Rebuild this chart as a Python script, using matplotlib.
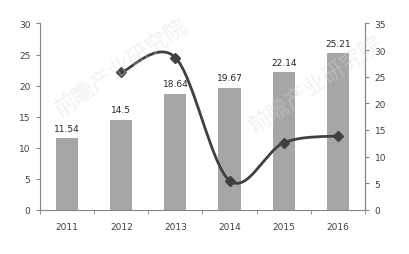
import numpy as np
import matplotlib.pyplot as plt
from matplotlib.path import Path
import matplotlib.patches as mpatches

plt.rcParams['font.family'] = ['DejaVu Sans', 'Noto Sans CJK SC']

years = ['2011', '2012', '2013', '2014', '2015', '2016']
bar_vals = [11.54, 14.5, 18.64, 19.67, 22.14, 25.21]
line_years = ['2012', '2013', '2014', '2015', '2016']
line_vals = [25.8, 28.6, 5.5, 12.6, 13.9]

fig = plt.figure(figsize=(4.09, 2.55), dpi=100)
ax = fig.add_axes([0.098, 0.173, 0.794, 0.731])
ax2 = ax.twinx()

x = np.arange(len(years))
ax.bar(x, bar_vals, width=0.41, color='#a6a6a6', zorder=2)
for xi, v in zip(x, bar_vals):
    ax.text(xi, v + 0.9, f'{v:g}', ha='center', va='bottom', fontsize=6.5, color='#262626')

ax.set_xlim(-0.5, 5.5)
ax.set_ylim(0, 30)
ax.set_yticks(range(0, 31, 5))
ax2.set_ylim(0, 35)
ax2.set_yticks(range(0, 36, 5))

ax.set_xticks(x)
ax.set_xticklabels(years)
ax.set_xticks(np.arange(-0.5, 6, 1), minor=True)
ax.tick_params(axis='x', which='major', length=0, pad=9, labelsize=6.5, labelcolor='#404040')
ax.tick_params(axis='x', which='minor', length=3, color='#868686', direction='out')
ax.tick_params(axis='y', length=3, color='#868686', labelsize=6.5, labelcolor='#404040', pad=4)
ax2.tick_params(axis='y', length=3, color='#868686', labelsize=6.5, labelcolor='#404040', pad=4)

for a in (ax, ax2):
    a.spines['top'].set_visible(False)
    for s in ('left', 'right', 'bottom'):
        a.spines[s].set_color('#868686')
        a.spines[s].set_linewidth(0.8)
ax2.spines['left'].set_visible(False)
ax2.spines['bottom'].set_visible(False)

# smoothed line (Excel style bezier through the points)
lx = np.array([years.index(y) for y in line_years], dtype=float)
ly = np.array(line_vals, dtype=float)
pts = np.column_stack([lx, ly])
verts = [pts[0]]
codes = [Path.MOVETO]
n = len(pts)
for i in range(n - 1):
    p0 = pts[i - 1] if i > 0 else pts[i]
    p1 = pts[i]
    p2 = pts[i + 1]
    p3 = pts[i + 2] if i + 2 < n else pts[i + 1]
    c1 = p1 + (p2 - p0) / 6.0
    c2 = p2 - (p3 - p1) / 6.0
    verts += [c1, c2, p2]
    codes += [Path.CURVE4] * 3
curve = mpatches.PathPatch(Path(verts, codes), facecolor='none', edgecolor='#404040',
                           lw=2.0, transform=ax2.transData, zorder=3, capstyle='round')
ax2.add_patch(curve)
ax2.plot(lx, ly, linestyle='none', marker='D', markersize=5, color='#404040', zorder=4)

# faint watermark
for (wx, wy) in [(0.296, 0.733), (0.773, 0.667)]:
    fig.text(wx, wy, '前瞻产业研究院', fontsize=16, color='#d8d8d8', alpha=0.35,
             rotation=34, ha='center', va='center', family=['Noto Sans CJK SC'], zorder=5)

fig.savefig('out.png', dpi=100)
